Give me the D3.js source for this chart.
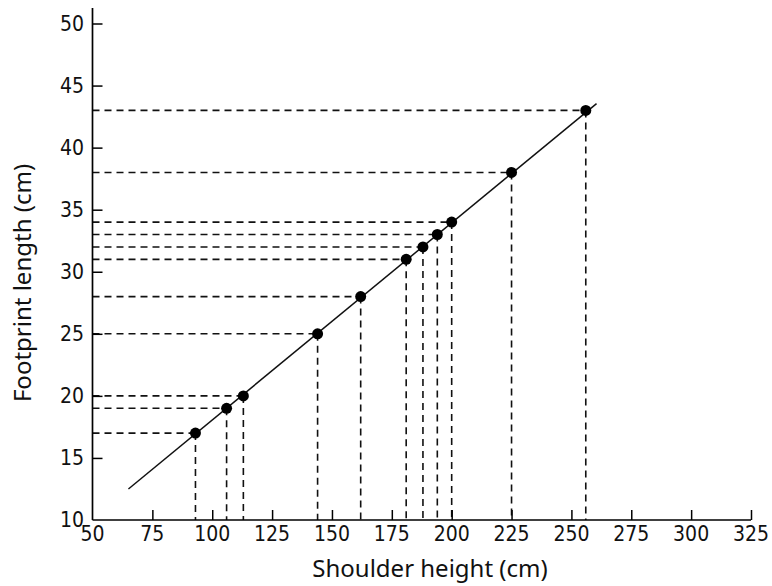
<!DOCTYPE html>
<html>
<head>
<meta charset="utf-8">
<script src="https://cdn.jsdelivr.net/npm/d3@7"></script>
<style>
  body { margin: 0; background: #fff; }
  .tick-label { font-family: "Liberation Sans Narrow", "DejaVu Sans Condensed", sans-serif; font-size: 21px; fill: #111; }
  .title { font-family: "Noto Sans", "Open Sans", sans-serif; font-size: 24px; fill: #111; }
</style>
</head>
<body>
<div id="chart"></div>
<script>
// data
const shoulderHeight = [93, 106, 113, 144, 162, 181, 188, 194, 200, 225, 256]
const footprintLength = [17, 19, 20, 25, 28, 31, 32, 33, 34, 38, 43]
// fitted line, end points
const fitLine = [[65, 12.5], [260.5, 43.55]]
const xTicks = [50, 75, 100, 125, 150, 175, 200, 225, 250, 275, 300, 325]
const yTicks = [10, 15, 20, 25, 30, 35, 40, 45, 50]

const WIDTH = 772
const HEIGHT = 586

const svg = d3.select('#chart').append('svg')
  .attr('width', WIDTH)
  .attr('height', HEIGHT)

const x = d3.scaleLinear().domain([50, 325]).range([92.5, 751])
const y = d3.scaleLinear().domain([10, 50]).range([520, 23.5])

const points = shoulderHeight.map((s, i) => ({ x: s, y: footprintLength[i] }))

// dashed guides
const guides = svg.append('g')
  .attr('stroke', '#111')
  .attr('stroke-width', 1.6)
  .attr('stroke-dasharray', '7,5')

guides.selectAll('line.h')
  .data(points)
  .enter()
  .append('line')
  .attr('class', 'h')
  .attr('x1', x(50))
  .attr('x2', d => x(d.x))
  .attr('y1', d => y(d.y))
  .attr('y2', d => y(d.y))

guides.selectAll('line.v')
  .data(points)
  .enter()
  .append('line')
  .attr('class', 'v')
  .attr('x1', d => x(d.x))
  .attr('x2', d => x(d.x))
  .attr('y1', d => y(d.y))
  .attr('y2', y(10))

// fitted line
svg.append('path')
  .datum(fitLine)
  .attr('fill', 'none')
  .attr('stroke', '#111')
  .attr('stroke-width', 1.5)
  .attr('d', d3.line().x(d => x(d[0])).y(d => y(d[1])))

// points
svg.selectAll('circle')
  .data(points)
  .enter()
  .append('circle')
  .attr('cx', d => x(d.x))
  .attr('cy', d => y(d.y))
  .attr('r', 5.5)
  .attr('fill', '#000')

// axes
const xAxis = svg.append('g')
  .attr('transform', `translate(0,${y(10)})`)
  .call(d3.axisTop(x).tickValues(xTicks.slice(1)).tickSize(10).tickFormat(''))
xAxis.select('.domain').attr('d', `M${x(50)},0H${x(325)}`).attr('stroke-width', 1.7)
xAxis.selectAll('.tick line').attr('stroke-width', 1.5)

const yAxis = svg.append('g')
  .attr('transform', `translate(${x(50)},0)`)
  .call(d3.axisRight(y).tickValues(yTicks.slice(1)).tickSize(10).tickFormat(''))
yAxis.select('.domain').attr('d', `M0,8V${y(10)}`).attr('stroke-width', 1.7)
yAxis.selectAll('.tick line').attr('stroke-width', 1.5)

// tick labels
svg.selectAll('text.xl')
  .data(xTicks)
  .enter()
  .append('text')
  .attr('class', 'tick-label xl')
  .attr('x', d => x(d))
  .attr('y', 541)
  .attr('text-anchor', 'middle')
  .text(d => d)

svg.selectAll('text.yl')
  .data(yTicks)
  .enter()
  .append('text')
  .attr('class', 'tick-label yl')
  .attr('x', 84)
  .attr('y', d => y(d) + 7)
  .attr('text-anchor', 'end')
  .text(d => d)

// titles
svg.append('text')
  .attr('class', 'title')
  .attr('x', 430)
  .attr('y', 577)
  .attr('text-anchor', 'middle')
  .text('Shoulder height (cm)')

svg.append('text')
  .attr('class', 'title')
  .attr('transform', 'translate(31,283) rotate(-90)')
  .attr('text-anchor', 'middle')
  .text('Footprint length (cm)')
</script>
</body>
</html>
